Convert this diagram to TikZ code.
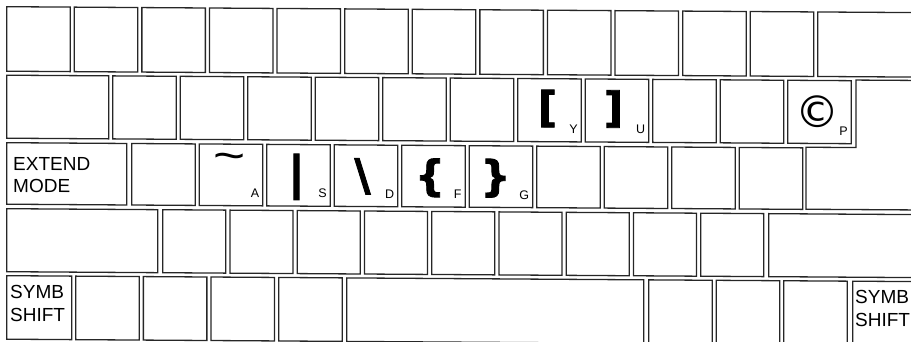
\documentclass[tikz,border=0pt]{standalone}
\usepackage{fontspec}
\setmainfont{Liberation Sans}
\newfontfamily\symfont{DejaVu Sans}[BoldFeatures={FakeBold=2}]
\newcommand\kbkey[5]{\node[keybox, minimum width={#4-(#2)}, minimum height={#5-(#3)}] (#1) at (#2,#3) {};}
\begin{document}
\begin{tikzpicture}[x=1pt,y=-1pt,
  keybox/.style={draw=black!85, line width=1.3pt, inner sep=0pt, anchor=north west},
  keyline/.style={draw=black!85, line width=1.3pt},
  sub/.style={font=\fontsize{12.5}{12.5}\selectfont, inner sep=0pt, anchor=base east},
  caption/.style={font=\fontsize{19}{22}\selectfont, inner sep=0pt, anchor=base west},
  sym/.style={font=\symfont\bfseries\fontsize{42}{42}\selectfont, inner sep=0pt, anchor=center}]
\useasboundingbox (0,0) rectangle (911,342);
\clip (0,0) rectangle (911,342);
\begin{scope}[yslant=-0.0065, transform shape]
% row 1
\foreach \i in {0,...,11} {\pgfmathsetmacro\xl{6+67.6*\i}\kbkey{r1k\i}{\xl}{6}{\xl+63.5}{70.5}}
\kbkey{r1last}{817}{6}{930}{70.5}
% row 2
\kbkey{tab}{6}{74.5}{108}{137.5}
\foreach \i in {0,...,10} {\pgfmathsetmacro\xl{112+67.5*\i}\kbkey{r2k\i}{\xl}{74.5}{\xl+63.5}{137.5}}
% row 3
\kbkey{ext}{6}{142}{126}{203.5}
\foreach \i in {0,...,9} {\pgfmathsetmacro\xl{131+67.5*\i}\kbkey{r3k\i}{\xl}{142}{\xl+63.5}{203.5}}
% enter (L-shaped)
\draw[keyline] (930,74.5) -- (856,74.5) -- (856,142) -- (806,142) -- (806,204) -- (930,204);
% row 4
\kbkey{lshift}{6}{208}{157}{271}
\foreach \i in {0,...,8} {\pgfmathsetmacro\xl{162+67.25*\i}\kbkey{r4k\i}{\xl}{208}{\xl+63}{271}}
\kbkey{rshift}{768}{208}{930}{271}
% row 5
\kbkey{symbl}{6}{275}{71}{338.5}
\foreach \i in {0,...,3} {\pgfmathsetmacro\xl{75+67.7*\i}\kbkey{r5k\i}{\xl}{275}{\xl+63.5}{338.5}}
\kbkey{space}{346}{275}{643}{338.5}
\foreach \i in {0,...,2} {\pgfmathsetmacro\xl{648+67.5*\i}\kbkey{r5r\i}{\xl}{275}{\xl+63.5}{338.5}}
\kbkey{symbr}{852}{275}{930}{338.5}
% captions
\node[caption] (ext1) at (13,170) {EXTEND};
\node[caption] (ext2) at (13,192) {MODE};
\node[caption] (sl1) at (10,298) {SYMB};
\node[caption] (sl2) at (10,321) {SHIFT};
\node[caption] (sr1) at (855,298) {SYMB};
\node[caption] (sr2) at (855,321) {SHIFT};
% small letters
\node[sub] (lA) at ([xshift=-4pt,yshift=9pt]r3k1.south east) {A};
\node[sub] (lS) at ([xshift=-4pt,yshift=9pt]r3k2.south east) {S};
\node[sub] (lD) at ([xshift=-4pt,yshift=9pt]r3k3.south east) {D};
\node[sub] (lF) at ([xshift=-4pt,yshift=9pt]r3k4.south east) {F};
\node[sub] (lG) at ([xshift=-4pt,yshift=9pt]r3k5.south east) {G};
\node[sub] (lY) at ([xshift=-4pt,yshift=9pt]r2k6.south east) {Y};
\node[sub] (lU) at ([xshift=-4pt,yshift=9pt]r2k7.south east) {U};
\node[sub] (lP) at ([xshift=-4pt,yshift=9pt]r2k10.south east) {P};
% symbols
\node[sym, font=\fontsize{44}{44}\selectfont, xscale=1.25] (sTil) at (230,160) {\textasciitilde};
\node[sym, font=\symfont\bfseries\fontsize{46}{46}\selectfont] (sBar) at (296.5,175) {\textbar};
\node[sym, font=\symfont\bfseries\fontsize{44}{44}\selectfont] (sBsl) at (362.5,174) {\textbackslash};
\node[sym] (sLbr) at (430,175) {\{};
\node[sym] (sRbr) at (495.5,175) {\}};
\node[sym] (sLsq) at (547.5,105) {[};
\node[sym] (sRsq) at (613.5,105) {]};
\node[sym, font=\symfont\fontsize{44}{44}\selectfont] (sCop) at (817.5,106) {\textcopyright};
\end{scope}
\end{tikzpicture}
\end{document}
